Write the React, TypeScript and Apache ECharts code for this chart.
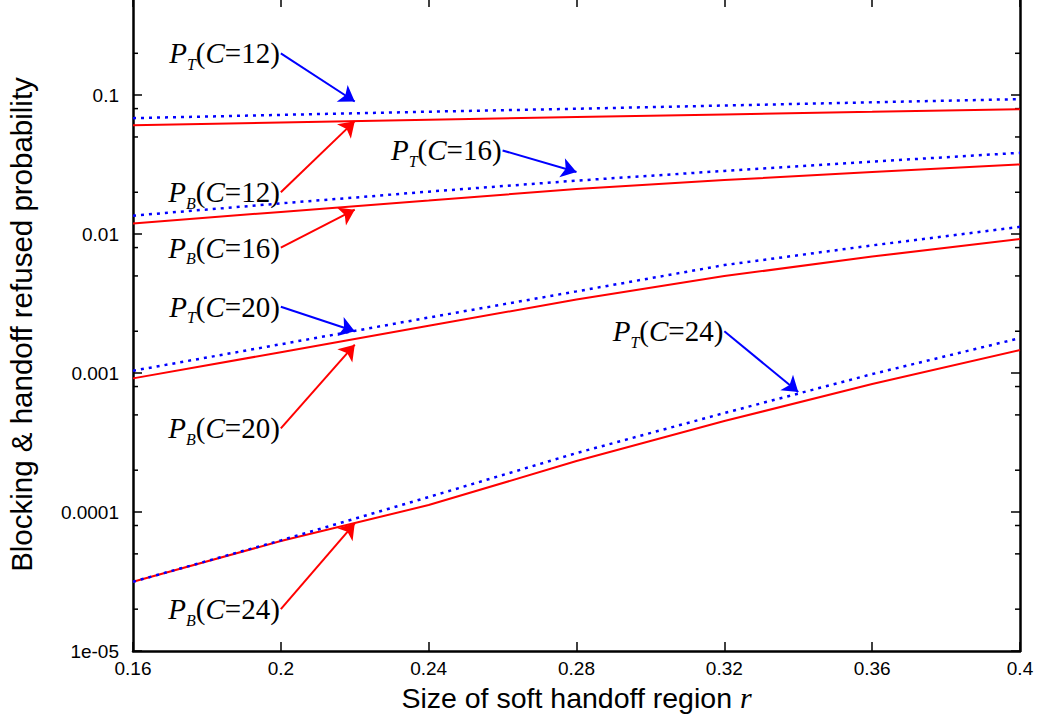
import React, { useEffect, useRef } from "react";
import * as echarts from "echarts";

// Size of soft handoff region r
const r = [0.16, 0.2, 0.24, 0.28, 0.32, 0.36, 0.4];

// Probabilities (log scale)
const pT12 = [0.0683, 0.0721, 0.076, 0.0798, 0.0842, 0.0888, 0.0936];
const pB12 = [0.0608, 0.0636, 0.0665, 0.0695, 0.0726, 0.0758, 0.0793];
const pT16 = [0.01358, 0.01663, 0.02021, 0.02426, 0.02849, 0.03323, 0.03846];
const pB16 = [0.01194, 0.01444, 0.01742, 0.02114, 0.02446, 0.02793, 0.03173];
const pT20 = [0.001039, 0.001612, 0.002509, 0.003871, 0.005984, 0.008293, 0.01128];
const pB20 = [0.000916, 0.001412, 0.00219, 0.003379, 0.004987, 0.006888, 0.009205];
const pT24 = [3.151e-5, 6.25e-5, 1.282e-4, 2.657e-4, 5.157e-4, 9.83e-4, 1.785e-3];
const pB24 = [3.151e-5, 6.18e-5, 1.123e-4, 2.327e-4, 4.516e-4, 8.33e-4, 1.464e-3];

const curveKinds = ["T", "B", "T", "B", "T", "B", "T", "B"];
const curveC = [12, 12, 16, 16, 20, 20, 24, 24];

// Annotation arrows (data coordinates)
const annFromX = [0.2, 0.2, 0.26, 0.2, 0.2, 0.2, 0.32, 0.2];
const annFromY = [0.2, 0.02, 0.04, 0.008, 0.003, 0.0004, 0.002, 0.00002];
const annToX = [0.22, 0.22, 0.28, 0.22, 0.22, 0.22, 0.34, 0.22];
const annToY = [0.09, 0.065, 0.028, 0.015, 0.002, 0.0016, 0.00073, 0.000083];

// Axis ticks
const yTickValues = [1e-5, 1e-4, 1e-3, 1e-2, 1e-1];
const yTickLabels = ["1e-05", "0.0001", "0.001", "0.01", "0.1"];
const yMinorTicks = [
  2e-5, 5e-5, 8e-5, 2e-4, 5e-4, 8e-4, 2e-3, 5e-3, 8e-3, 0.02, 0.05, 0.08, 0.2,
];
const xTickLabels = ["0.16", "0.2", "0.24", "0.28", "0.32", "0.36", "0.4"];

const BLUE = "#0000ff";
const RED = "#ff0000";

export default function App() {
  const ref = useRef<HTMLDivElement>(null);

  useEffect(() => {
    if (!ref.current) return;
    const chart = echarts.init(ref.current, null, { renderer: "svg" });

    const curves = [pT12, pB12, pT16, pB16, pT20, pB20, pT24, pB24];

    const lineSeries = curves.map((arr, i) => {
      const isT = curveKinds[i] === "T";
      const color = isT ? BLUE : RED;
      return {
        type: "line",
        name: `P${curveKinds[i]}(C=${curveC[i]})`,
        data: r.map((x, k) => [x, arr[k]]),
        symbol: "none",
        z: isT ? 3 : 2,
        color,
        lineStyle: isT
          ? { color, width: 2.5, type: [3, 5] }
          : { color, width: 2, type: "solid" },
        itemStyle: { color },
        silent: true,
        markLine: {
          silent: true,
          symbol: ["none", "arrow"],
          symbolSize: 15,
          label: { show: false },
          itemStyle: { color },
          lineStyle: { color, width: 2, type: "solid" },
          data: [
            [
              { coord: [annFromX[i], annFromY[i]], symbol: "none" },
              { coord: [annToX[i], annToY[i]], symbol: "arrow", symbolSize: 15 },
            ],
          ],
        },
      };
    });

    const fmtY = (v: number) => {
      const lv = Math.log10(v);
      for (let i = 0; i < yTickValues.length; i++) {
        if (Math.abs(Math.log10(yTickValues[i]) - lv) < 1e-6) return yTickLabels[i];
      }
      return "";
    };
    const fmtX = (v: number) => {
      for (let i = 0; i < r.length; i++) {
        if (Math.abs(r[i] - v) < 1e-6) return xTickLabels[i];
      }
      return "";
    };

    const axisLine = { show: true, onZero: false, lineStyle: { color: "#000", width: 2.5 } };
    const axisTick = { show: true, inside: true, length: 9, lineStyle: { color: "#000", width: 1.5 } };

    const xBase = {
      type: "value",
      min: 0.16,
      max: 0.4,
      interval: 0.04,
      axisLine,
      axisTick,
      splitLine: { show: false },
    };
    const yBase = {
      type: "log",
      logBase: 10,
      min: 1e-5,
      max: 0.5,
      axisLine,
      axisTick,
      splitLine: { show: false },
      minorTick: { show: false },
    };

    const serif = {
      fontFamily: "Liberation Serif",
      fontSize: 29,
      lineHeight: 38,
      verticalAlign: "middle",
      color: "#000",
    };

    const option = {
      animation: false,
      backgroundColor: "#ffffff",
      grid: {
        left: 133,
        right: 19,
        top: -2,
        bottom: 68,
        containLabel: false,
        outerBoundsMode: "none",
      },
      xAxis: [
        {
          ...xBase,
          position: "bottom",
          axisLabel: {
            color: "#000",
            fontFamily: "Liberation Sans",
            fontSize: 19,
            margin: 8,
            formatter: fmtX,
          },
          name: "Size of soft handoff region {i|r}",
          nameLocation: "middle",
          nameGap: 31,
          nameTextStyle: {
            color: "#000",
            fontFamily: "Liberation Sans",
            fontSize: 28.5,
            rich: {
              i: {
                fontFamily: "Liberation Serif",
                fontStyle: "italic",
                fontSize: 30,
                color: "#000",
              },
            },
          },
        },
        {
          ...xBase,
          position: "top",
          axisLabel: { show: false },
        },
      ],
      yAxis: [
        {
          ...yBase,
          position: "left",
          axisLabel: {
            color: "#000",
            fontFamily: "Liberation Sans",
            fontSize: 19,
            margin: 14,
            formatter: fmtY,
          },
          name: "Blocking & handoff refused probability",
          nameLocation: "middle",
          nameGap: 97,
          nameTextStyle: {
            color: "#000",
            fontFamily: "Liberation Sans",
            fontSize: 29.5,
          },
        },
        {
          ...yBase,
          position: "right",
          axisLabel: { show: false },
        },
      ],
      series: [
        ...lineSeries,
        {
          type: "custom",
          name: "minorTicks",
          xAxisIndex: 0,
          yAxisIndex: 0,
          clip: false,
          silent: true,
          data: yMinorTicks.map((v) => [r[0], v]),
          renderItem: (params: any, api: any) => {
            const v = api.value(1);
            const a = api.coord([r[0], v]);
            const b = api.coord([r[r.length - 1], v]);
            return {
              type: "group",
              children: [
                {
                  type: "line",
                  shape: { x1: a[0], y1: a[1], x2: a[0] + 5, y2: a[1] },
                  style: { stroke: "#000", lineWidth: 1.5 },
                },
                {
                  type: "line",
                  shape: { x1: b[0] - 5, y1: b[1], x2: b[0], y2: b[1] },
                  style: { stroke: "#000", lineWidth: 1.5 },
                },
              ],
            };
          },
        },
        {
          type: "scatter",
          name: "annotations",
          symbolSize: 0,
          silent: true,
          z: 5,
          data: annFromX.map((x, i) => [x, annFromY[i]]),
          label: {
            show: true,
            position: "left",
            distance: 1,
            color: "#000",
            opacity: 1,
            formatter: (p: any) =>
              `{p|P}{s|${curveKinds[p.dataIndex]}}{n|(}{c|C}{n|=${curveC[p.dataIndex]})}`,
            rich: {
              p: { ...serif, fontStyle: "italic" },
              c: { ...serif, fontStyle: "italic" },
              n: { ...serif },
              s: {
                fontFamily: "Liberation Serif",
                fontStyle: "italic",
                fontSize: 16,
                lineHeight: 16,
                verticalAlign: "bottom",
                color: "#000",
              },
            },
          },
        },
      ],
    };

    chart.setOption(option as any);
    return () => chart.dispose();
  }, []);

  return (
    <div
      ref={ref}
      style={{
        position: "absolute",
        left: 0,
        top: 0,
        width: 1039,
        height: 719,
        background: "#ffffff",
      }}
    />
  );
}
